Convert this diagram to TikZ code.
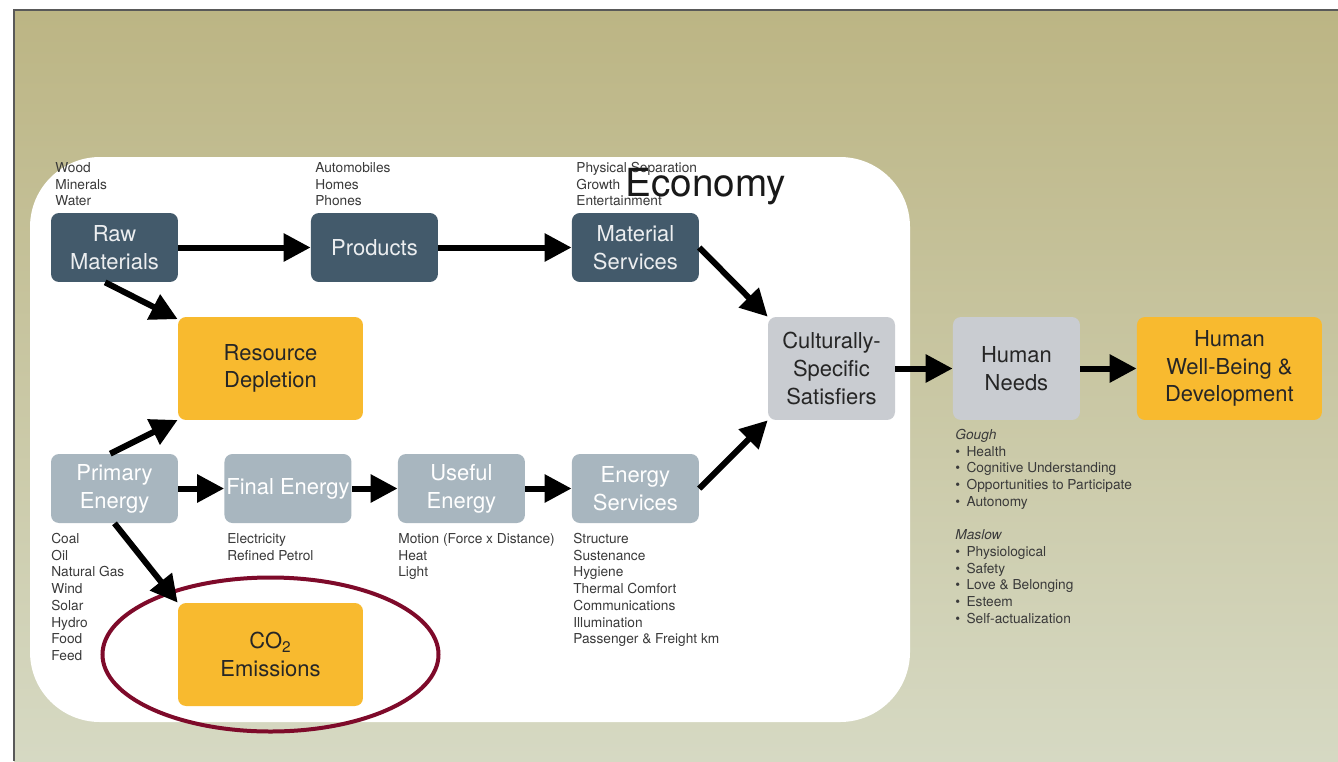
\documentclass[tikz,border=0pt]{standalone}
\usepackage{fontspec}
\setmainfont{TeX Gyre Heros}
\usepackage{tikz}
\usetikzlibrary{arrows.meta, positioning}
\definecolor{bgtop}{HTML}{BCB584}
\definecolor{bgbot}{HTML}{D6D9C3}
\definecolor{slate}{HTML}{435A6B}
\definecolor{steel}{HTML}{A8B6BF}
\definecolor{silver}{HTML}{C9CCD1}
\definecolor{amber}{HTML}{F8BA2F}
\definecolor{ringred}{HTML}{7E0A2A}
\definecolor{notegray}{HTML}{3A3A3A}
\newcommand{\boxfont}{\fontsize{12.5}{15.8}\selectfont}
\newcommand{\notefont}{\fontsize{7.8}{9.5}\selectfont}
\newcommand{\needbullet}{\makebox[6.4pt][l]{\textbullet}}
\tikzstyle{flowbox} = [rectangle, rounded corners=0.16cm, minimum width=2.54cm, minimum height=1.38cm, text centered, align=center, font=\boxfont, inner sep=1pt]
\tikzstyle{darkbox} = [flowbox, fill=slate, text=white!90!slate]
\tikzstyle{energybox} = [flowbox, fill=steel, text=white]
\tikzstyle{greybox} = [flowbox, fill=silver, text=black!85, minimum height=2.06cm]
\tikzstyle{impactbox} = [flowbox, fill=amber, text=black!85, minimum width=3.7cm, minimum height=2.06cm]
\tikzstyle{note} = [font=\notefont, text=notegray, align=left, anchor=north west, inner sep=0pt]
\tikzstyle{arrow} = [line width=0.12cm, -{Triangle[length=0.54cm, width=0.54cm]}]

\begin{document}
\begin{tikzpicture}[x=0.02cm, y=-0.02cm]

  % Page and background
  \useasboundingbox (0,0) rectangle (1338,761);
  \shade [top color=bgtop, bottom color=bgbot] (14,10) rectangle (1338,761);
  \draw [line width=0.035cm, black!65] (14,761) -- (14,10) -- (1338,10);
  \fill [white, rounded corners=1.4cm] (30,157) rectangle (910,722);

  % Notes
  \node (rawnote) [note] at (55,162) {Wood\\Minerals\\Water};
  \node (prodnote) [note] at (315,162) {Automobiles\\Homes\\Phones};
  \node (matnote) [note] at (576,162) {Physical Separation\\Growth\\Entertainment};
  \node (economy) [font=\fontsize{22}{26}\selectfont, text=black!90] at (706,187) {Economy};
  \node (primnote) [note] at (51,533) {Coal\\Oil\\Natural Gas\\Wind\\Solar\\Hydro\\Food\\Feed};
  \node (finalnote) [note] at (227,533) {Electricity\\Refined Petrol};
  \node (usefulnote) [note] at (398,533) {Motion (Force x Distance)\\Heat\\Light};
  \node (servnote) [note] at (573,533) {Structure\\Sustenance\\Hygiene\\Thermal Comfort\\Communications\\Illumination\\Passenger \& Freight km};
  \node (needsnote) [note] at (955,429) {\textit{Gough}\\\needbullet Health\\\needbullet Cognitive Understanding\\\needbullet Opportunities to Participate\\\needbullet Autonomy\\\mbox{}\\\textit{Maslow}\\\needbullet Physiological\\\needbullet Safety\\\needbullet Love \& Belonging\\\needbullet Esteem\\\needbullet Self-actualization};

  % Material row
  \node (raw) [darkbox] at (114.5,247.5) {Raw\\Materials};
  \node (products) [darkbox, right of=raw, node distance=5.2cm] {Products};
  \node (matserv) [darkbox, right of=products, node distance=5.22cm] {Material\\Services};

  % Energy row
  \node (primary) [energybox] at (114.5,488.5) {Primary\\Energy};
  \node (final) [energybox, right of=primary, node distance=3.47cm] {Final Energy};
  \node (useful) [energybox, right of=final, node distance=3.47cm] {Useful\\Energy};
  \node (enserv) [energybox, right of=useful, node distance=3.48cm] {Energy\\Services};

  % Impacts and needs
  \node (depl) [impactbox] at (270.5,368.5) {Resource\\Depletion};
  \node (co2) [impactbox] at (270.5,654.5) {CO\textsubscript{2}\\Emissions};
  \node (cult) [greybox] at (831.5,368.5) {Culturally-\\Specific\\Satisfiers};
  \node (needs) [greybox, right of=cult, node distance=3.7cm] {Human\\Needs};
  \node (hwb) [impactbox, right of=needs, node distance=4.26cm] {Human\\Well-Being \&\\Development};

  \draw [ringred, line width=0.08cm] (co2.center) ellipse [x radius=168, y radius=77];

  % Arrows
  \draw [arrow] (raw) -- (products);
  \draw [arrow] (products) -- (matserv);
  \draw [arrow] (raw.-105) -- (depl.152);
  \draw [arrow] (primary.97) -- (depl.209);
  \draw [arrow] (primary.-90) -- (co2.north west);
  \draw [arrow] (primary) -- (final);
  \draw [arrow] (final) -- (useful);
  \draw [arrow] (useful) -- (enserv);
  \draw [arrow] (matserv.east) -- (cult.north west);
  \draw [arrow] (enserv.east) -- (cult.south west);
  \draw [arrow] (cult) -- (needs);
  \draw [arrow] (needs) -- (hwb);

\end{tikzpicture}
\end{document}
